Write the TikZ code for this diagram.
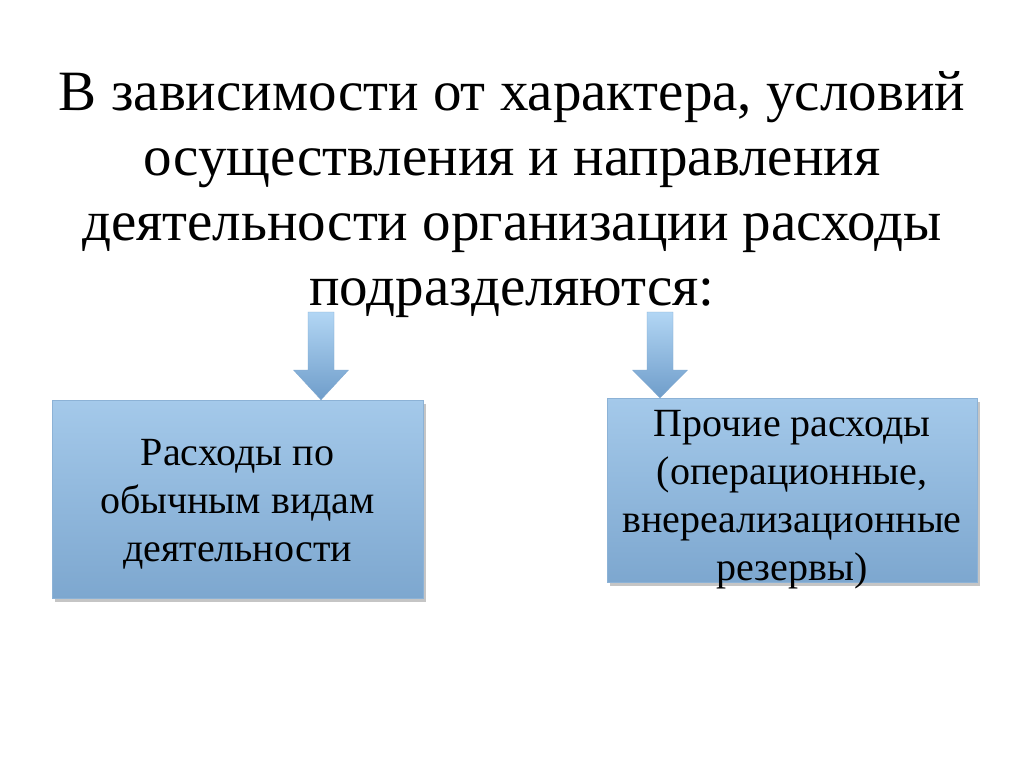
\documentclass[tikz,border=0pt]{standalone}
\usepackage{fontspec}
\setmainfont{Liberation Serif}
\usetikzlibrary{calc, shadows}

\definecolor{boxtop}{HTML}{A4C9EA}
\definecolor{boxbot}{HTML}{7DA7CF}
\definecolor{boxline}{HTML}{8CB2D6}
\definecolor{arrtop}{HTML}{B2D6F4}
\definecolor{arrbot}{HTML}{6F9DCA}
\definecolor{arrline}{HTML}{7FA8D0}

\begin{document}
\begin{tikzpicture}[x=1pt, y=-1pt,
    box/.style={draw=boxline, top color=boxtop, bottom color=boxbot,
      drop shadow={shadow xshift=3pt, shadow yshift=-4pt, opacity=0.45}},
    boxtext/.style={align=center, font=\fontsize{40}{48}\selectfont},
    blockarrow/.style={draw=arrline, line join=round, top color=arrtop, bottom color=arrbot}]

  \useasboundingbox[fill=white] (0, 0) rectangle (1024, 767);

  \node[align=center, font=\fontsize{57}{65}\selectfont] (title) at (512, 195)
    {В зависимости от характера, условий\\ осуществления и направления\\
     деятельности организации расходы\\ подразделяются:};

  \node[box, minimum width=371, minimum height=198] (ordinary) at (237.5, 499) {};
  \node[boxtext] (ordinarytext) at ($(ordinary) + (0, 5)$) {Расходы по\\ обычным видам\\ деятельности};

  \node[box, minimum width=370, minimum height=184] (other) at (792, 490) {};
  \node[boxtext] (othertext) at ($(other) + (0, 10)$)
    {Прочие расходы\\ (операционные,\\ внереализационные\\ резервы)};

  \pgfmathsetmacro{\dx}{13}
  \pgfmathsetmacro{\hx}{27.5}
  \pgfmathsetmacro{\dy}{58}

  \foreach \x/\target in {321/ordinary, 660/other} {
    \coordinate (top-\target) at (\x, 312);
    \coordinate (tip-\target) at (top-\target |- \target.north);
    \draw[blockarrow] ($(top-\target) + (-\dx, 0)$) -- ++(2 * \dx, 0) -- ++(0, \dy)
      -- ++({\hx - \dx}, 0) -- (tip-\target) -- ($(top-\target) + (-\hx, \dy)$)
      -- ++({\hx - \dx}, 0) -- cycle;
  }

\end{tikzpicture}
\end{document}
